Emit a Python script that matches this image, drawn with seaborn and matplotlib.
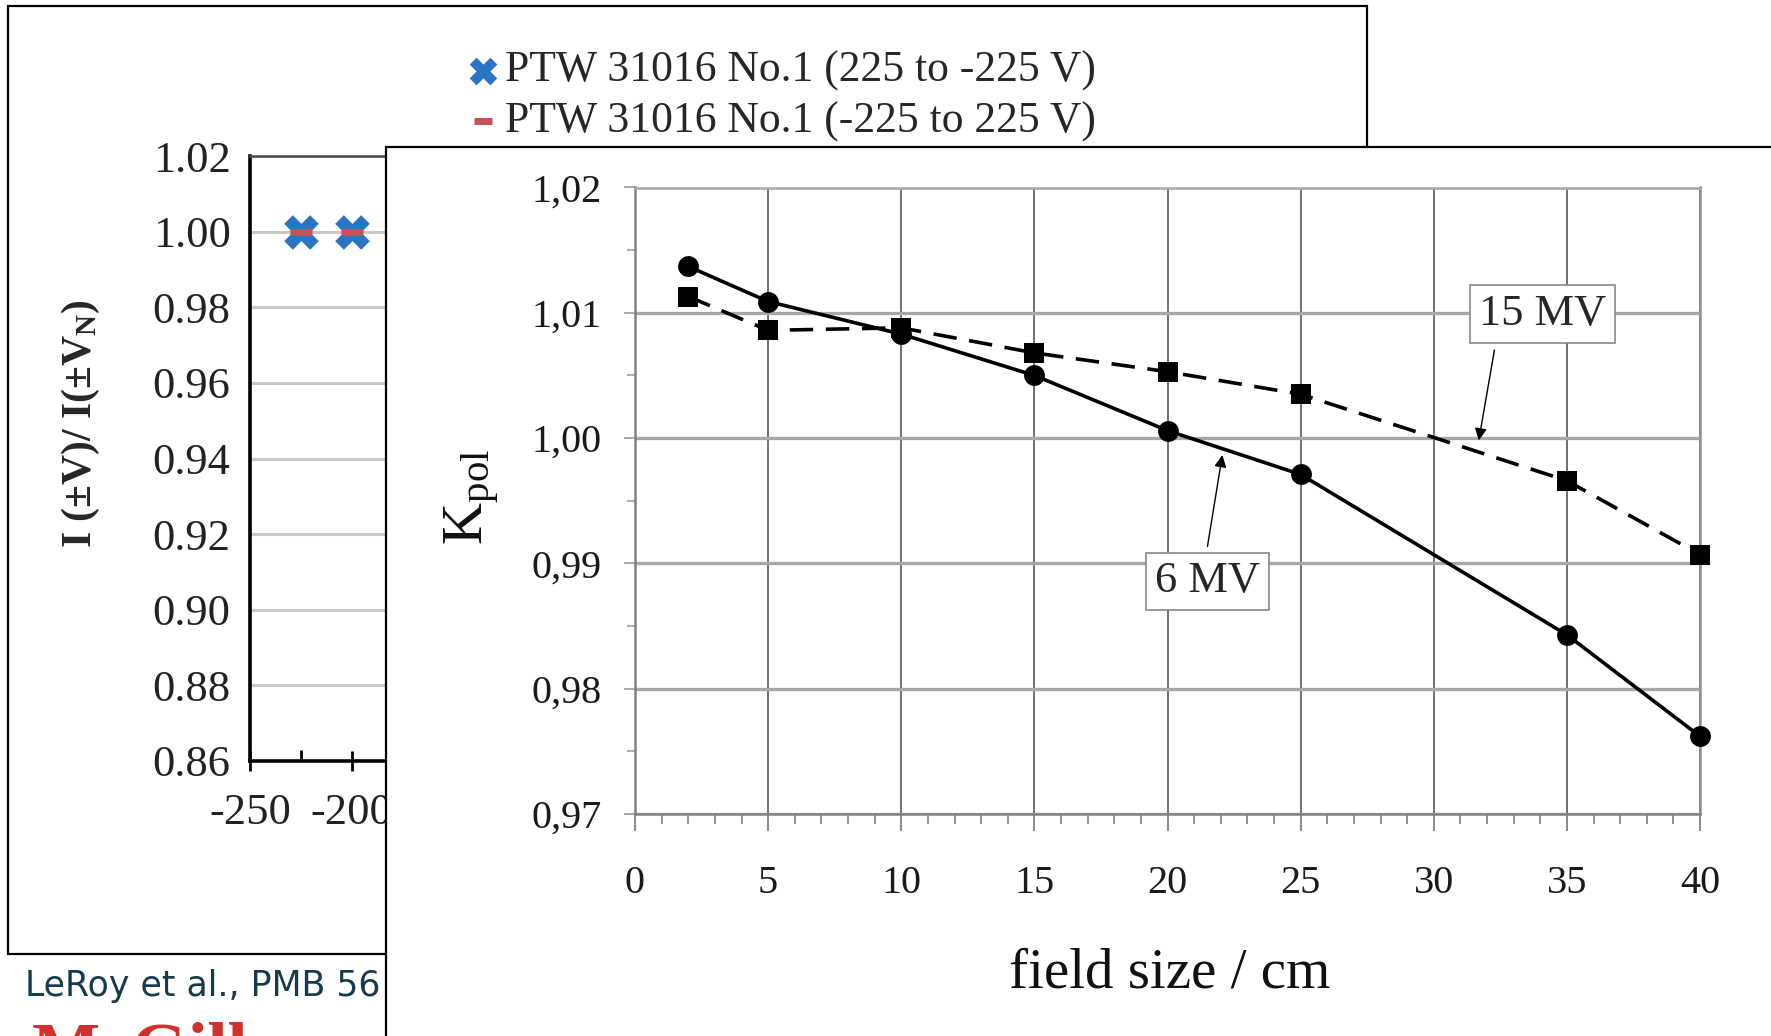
import matplotlib
matplotlib.use("Agg")
import matplotlib.pyplot as plt
import matplotlib.ticker as mticker
from matplotlib.patches import Rectangle
import pandas as pd
import seaborn as sns

# ---- front chart: polarity correction factor vs field size ----
field_size_cm = [2, 5, 10, 15, 20, 25, 35, 40]
kpol_6mv = [1.0137, 1.0109, 1.0083, 1.0050, 1.0006, 0.9971, 0.9843, 0.9762]
kpol_15mv = [1.0113, 1.0086, 1.0088, 1.0068, 1.0053, 1.0035, 0.9966, 0.9907]
energy_labels = ["6 MV", "15 MV"]
front_xticks = [0, 5, 10, 15, 20, 25, 30, 35, 40]
front_yticks = [0.97, 0.98, 0.99, 1.00, 1.01, 1.02]

# ---- back chart: current ratio vs bias voltage (visible part) ----
bias_voltage_v = [-225, -200]
ratio_down = [1.000, 1.000]
ratio_up = [1.000, 1.000]
series_labels = ["PTW 31016 No.1 (225 to -225 V)", "PTW 31016 No.1 (-225 to 225 V)"]
back_yticks = [0.86, 0.88, 0.90, 0.92, 0.94, 0.96, 0.98, 1.00, 1.02]
back_xticks = [-250, -200]

sns.set_style("white")
plt.rcParams["font.family"] = ["Liberation Serif", "DejaVu Serif"]
plt.rcParams["mathtext.fontset"] = "custom"
plt.rcParams["mathtext.rm"] = "Liberation Serif"
plt.rcParams["mathtext.it"] = "Liberation Serif:italic"
plt.rcParams["mathtext.bf"] = "Liberation Serif:bold"
plt.rcParams["axes.unicode_minus"] = False

W, H = 1771, 1036
fig = plt.figure(figsize=(W / 100, H / 100), dpi=100)
fig.patch.set_facecolor("white")

# back slide frame
fig.add_artist(Rectangle((8 / W, 1 - 954 / H), (1367 - 8) / W, (954 - 6) / H,
                         transform=fig.transFigure, fc="white", ec="black",
                         lw=1.6, zorder=-1))

# ---------------- back chart ----------------
ax_b = fig.add_axes([250 / W, 1 - 761 / H, (1266 - 250) / W, (761 - 156) / H], zorder=1)
sns.scatterplot(x=bias_voltage_v, y=ratio_down, marker="X", s=620, color="#2a74c4",
                linewidth=0, ax=ax_b, label=series_labels[0], zorder=3)
sns.scatterplot(x=bias_voltage_v, y=ratio_up, marker="_", s=260, color="#c4505a",
                linewidth=5, ax=ax_b, label=series_labels[1], zorder=4)
ax_b.set_xlim(-250, 250)
ax_b.set_ylim(0.86, 1.02)
ax_b.set_yticks(back_yticks)
ax_b.yaxis.set_major_formatter(mticker.FuncFormatter(lambda v, p: f"{v:.2f}"))
ax_b.set_xticks(back_xticks)
ax_b.xaxis.set_minor_locator(mticker.FixedLocator([-225]))
ax_b.grid(axis="y", color="#c8c8c8", lw=2.2)
ax_b.set_axisbelow(True)
for side in ("left", "bottom"):
    ax_b.spines[side].set_color("black")
    ax_b.spines[side].set_linewidth(2.6)
ax_b.spines["top"].set_color("#4a4a4a")
ax_b.spines["top"].set_linewidth(1.8)
ax_b.spines["right"].set_visible(False)
ax_b.tick_params(axis="y", left=False, length=0, pad=14, labelsize=32, labelcolor="#222222")
ax_b.tick_params(axis="x", which="major", bottom=True, direction="inout", length=14, width=2,
                 color="black", labelsize=32, pad=16, labelcolor="#222222")
ax_b.tick_params(axis="x", which="minor", bottom=True, direction="in", length=8, width=2,
                 color="black")
ax_b.set_xlabel("")
ax_b.set_ylabel("I (±V)/ I(±V$_{\\mathbf{N}}$)", fontsize=30, fontweight="bold")
ax_b.yaxis.set_label_coords((81 - 250) / 1016, (761 - 424) / 605)
ax_b.yaxis.label.set_va("center")
ax_b.legend(loc="upper left", bbox_to_anchor=(470 / W, 1 - 51 / H),
            bbox_transform=fig.transFigure, frameon=False, fontsize=31.4,
            borderpad=0, borderaxespad=0, handlelength=0.6, handletextpad=0.2,
            labelspacing=0.22, markerscale=0.8)

# citation and logo
fig.text(25 / W, 1 - 986 / H, "LeRoy et al., PMB 56", fontsize=25, color="#173a4d",
         family="DejaVu Sans", va="center", ha="left")
fig.text(32 / W, 1 - 1021 / H, "McGill", fontsize=52, color="#d0312d", va="top",
         ha="left", fontweight="bold")

# front slide frame
fig.add_artist(Rectangle((386 / W, -0.05), 1.0, 1 - 147 / H + 0.05,
                         transform=fig.transFigure, fc="white", ec="black",
                         lw=1.6, zorder=2))

# ---------------- front chart ----------------
ax_f = fig.add_axes([635 / W, 1 - 814 / H, (1700 - 635) / W, (814 - 187.5) / H], zorder=3)
df = pd.DataFrame({
    "field": field_size_cm * 2,
    "kpol": kpol_6mv + kpol_15mv,
    "energy": [energy_labels[0]] * len(field_size_cm) + [energy_labels[1]] * len(field_size_cm),
})
sns.lineplot(data=df, x="field", y="kpol", style="energy", style_order=energy_labels,
             markers={"6 MV": "o", "15 MV": "s"}, dashes={"6 MV": "", "15 MV": (6.5, 3.5)},
             color="black", lw=2.6, markersize=15, markeredgewidth=0, legend=False, ax=ax_f)
for ln in ax_f.lines:
    ln.set_clip_on(False)
    ln.set_zorder(4)

ax_f.set_xlim(0, 40)
ax_f.set_ylim(0.97, 1.02)
ax_f.set_xticks(front_xticks)
ax_f.xaxis.set_minor_locator(mticker.MultipleLocator(1))
ax_f.set_yticks(front_yticks)
ax_f.yaxis.set_minor_locator(mticker.MultipleLocator(0.005))
ax_f.yaxis.set_major_formatter(mticker.FuncFormatter(lambda v, p: f"{v:.2f}".replace(".", ",")))
ax_f.grid(axis="x", which="major", color="#707070", lw=1.4)
ax_f.grid(axis="y", which="major", color="#a8a8a8", lw=2.4)
ax_f.set_axisbelow(True)
for side, col in (("left", "#808080"), ("bottom", "#808080"), ("top", "#a8a8a8"), ("right", "#909090")):
    ax_f.spines[side].set_color(col)
    ax_f.spines[side].set_linewidth(1.8)
ax_f.tick_params(axis="x", which="both", bottom=True)
ax_f.tick_params(axis="y", which="both", left=True)
ax_f.tick_params(axis="x", which="major", direction="out", length=12, width=1.3,
                 color="#808080", labelsize=29, pad=25, labelcolor="#1a1a1a")
ax_f.tick_params(axis="x", which="minor", direction="out", length=7, width=1.2, color="#808080")
ax_f.tick_params(axis="y", which="major", direction="out", length=8, width=1.3,
                 color="#a0a0a0", labelsize=29, pad=16, labelcolor="#1a1a1a")
ax_f.tick_params(axis="y", which="minor", direction="out", length=6, width=1.2, color="#a0a0a0")

ax_f.set_xlabel("field size / cm", fontsize=41, color="#111111")
ax_f.xaxis.set_label_coords(0.502, -(973 - 814) / 626.5)
ax_f.xaxis.label.set_va("center")
ax_f.set_ylabel("K$_{\\mathrm{pol}}$", fontsize=42, color="#111111")
ax_f.yaxis.set_label_coords((472 - 635) / 1065, (814 - 497) / 626.5)
ax_f.yaxis.label.set_va("center")

box = dict(boxstyle="square,pad=0.2", fc="white", ec="#888888", lw=1.2)
ax_f.text(34.1, 1.0099, energy_labels[1], ha="center", va="center", fontsize=32, bbox=box, zorder=6)
ax_f.text(21.5, 0.98856, energy_labels[0], ha="center", va="center", fontsize=32, bbox=box, zorder=6)
arrow = dict(arrowstyle="-|>", color="black", lw=1.0, mutation_scale=18, shrinkA=0, shrinkB=0)
ax_f.annotate("", xy=(31.69, 0.99982), xytext=(32.28, 1.00703), arrowprops=arrow, zorder=5)
ax_f.annotate("", xy=(22.06, 0.99865), xytext=(21.5, 0.99135), arrowprops=arrow, zorder=5)

fig.savefig("out.png", dpi=100)
